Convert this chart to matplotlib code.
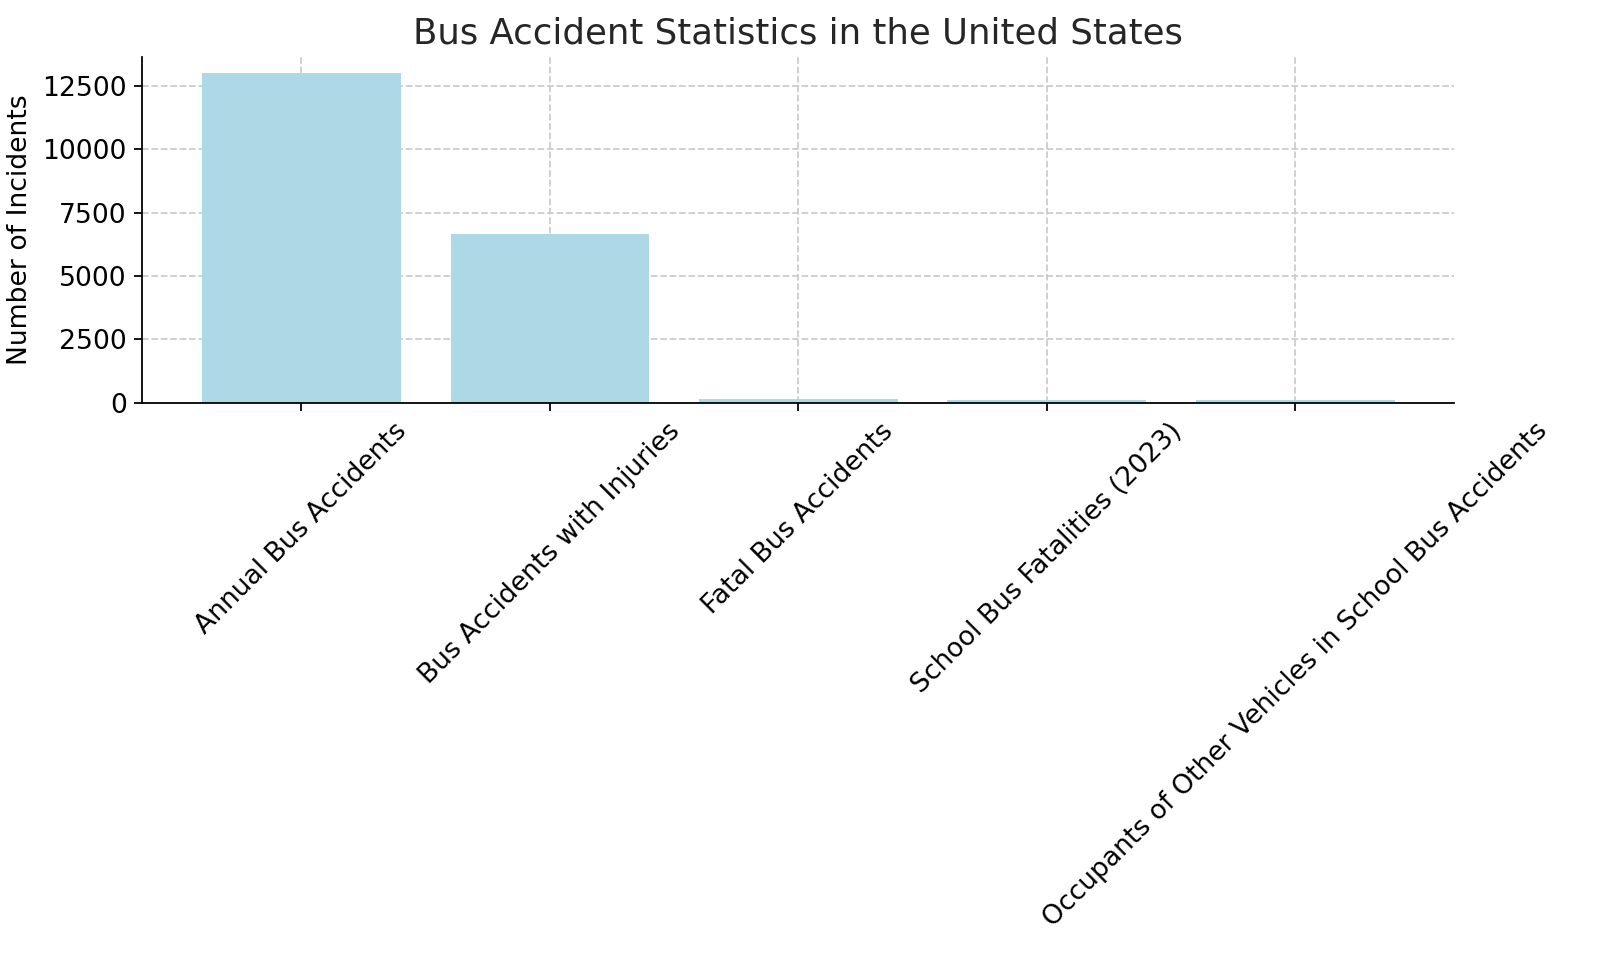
import matplotlib
matplotlib.use("Agg")
import matplotlib.pyplot as plt

categories = ["Annual Bus Accidents", "Bus Accidents with Injuries", "Fatal Bus Accidents",
              "School Bus Fatalities (2023)", "Occupants of Other Vehicles in School Bus Accidents"]
values = [13000, 6650, 150, 120, 90]

fig, ax = plt.subplots(figsize=(10, 5.99375), dpi=160)
ax.bar(categories, values, color="lightblue")
ax.set_title("Bus Accident Statistics in the United States", fontsize=16, color="#262626")
ax.set_ylabel("Number of Incidents", fontsize=12)
ax.tick_params(labelsize=12)
plt.xticks(rotation=45)
ax.grid(True, linestyle="--", color="#cccccc")
ax.set_axisbelow(True)
ax.spines["top"].set_visible(False)
ax.spines["right"].set_visible(False)
fig.subplots_adjust(left=0.089, right=0.909, top=0.941, bottom=0.58)
plt.savefig("out.png")
